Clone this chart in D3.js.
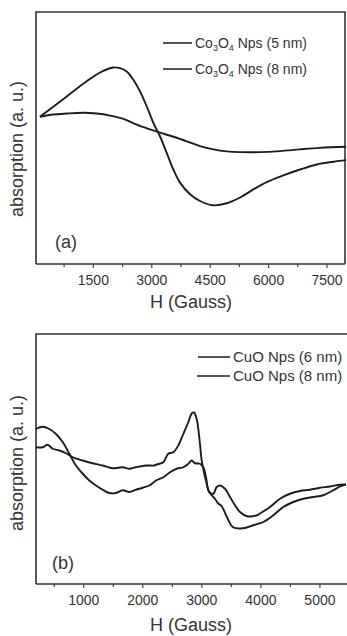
<!DOCTYPE html>
<html>
<head>
<meta charset="utf-8">
<script src="https://cdn.jsdelivr.net/npm/d3@7"></script>
<style>
  html, body { margin: 0; padding: 0; background: #fff; }
  svg { display: block; font-family: "Liberation Sans", Arial, sans-serif; }
</style>
</head>
<body>
<svg id="chart" width="347" height="636"></svg>
<script>
// ---------- Panel (a): Co3O4 ----------
const aFieldGauss5 = [140, 830, 1340, 1684, 2026, 2197, 2369, 2540, 2711, 2882, 3053, 3224, 3396, 3567, 3738, 3995, 4252, 4594, 4937, 5279, 5621, 5964, 6392, 6820, 7248, 7676, 8000];
const aAbs5nm      = [5.84, 6.65, 7.25, 7.60, 7.80, 7.77, 7.64, 7.31, 6.85, 6.26, 5.60, 5.07, 4.41, 3.75, 3.23, 2.77, 2.50, 2.33, 2.41, 2.64, 2.96, 3.25, 3.52, 3.75, 3.95, 4.06, 4.12];
const aFieldGauss8 = [140, 485, 828, 1255, 1598, 1940, 2283, 2626, 2968, 3224, 3567, 3910, 4252, 4594, 4937, 5279, 5793, 6306, 6820, 7334, 8000];
const aAbs8nm      = [5.84, 5.93, 5.97, 6.00, 5.97, 5.89, 5.76, 5.53, 5.34, 5.21, 5.05, 4.87, 4.68, 4.55, 4.47, 4.44, 4.44, 4.48, 4.55, 4.61, 4.65];
const aMajorTicks = [1500, 3000, 4500, 6000, 7500];
const aMinorTicks = [750, 2250, 3750, 5250, 6750];
const aLegend = ["5 nm", "8 nm"];

// ---------- Panel (b): CuO ----------
const bFieldA = [200, 313, 425, 539, 655, 764, 877, 991, 1103, 1216, 1330, 1441, 1555, 1668, 1780, 1893, 2007, 2119, 2232, 2356, 2469, 2583, 2694, 2779, 2837, 2893, 2977, 3033, 3079, 3118, 3175, 3231, 3287, 3345, 3435, 3536, 3705, 3880, 4049, 4219, 4388, 4557, 4727, 4896, 5065, 5235, 5348, 5450];
const bAbsA   = [6.20, 6.29, 6.20, 6.00, 5.67, 5.21, 4.74, 4.41, 4.14, 3.94, 3.77, 3.64, 3.64, 3.75, 3.68, 3.77, 3.85, 3.94, 4.14, 4.27, 4.47, 4.61, 4.67, 4.81, 4.94, 4.83, 4.81, 4.67, 4.27, 3.75, 3.55, 3.41, 3.22, 3.11, 2.67, 2.27, 2.23, 2.35, 2.48, 2.75, 3.08, 3.28, 3.41, 3.48, 3.55, 3.75, 3.90, 3.98];
const bFieldB = [200, 313, 398, 483, 595, 708, 822, 991, 1160, 1330, 1499, 1668, 1780, 1893, 2063, 2203, 2244, 2356, 2440, 2525, 2610, 2694, 2779, 2837, 2876, 2921, 2965, 3006, 3045, 3091, 3135, 3203, 3260, 3316, 3401, 3485, 3570, 3655, 3773, 3943, 3993, 4163, 4332, 4501, 4671, 4840, 5009, 5179, 5348, 5450];
const bAbsB   = [5.47, 5.47, 5.57, 5.41, 5.34, 5.23, 5.07, 4.94, 4.83, 4.74, 4.63, 4.67, 4.61, 4.67, 4.74, 4.74, 4.78, 4.87, 5.21, 5.27, 5.54, 6.00, 6.47, 6.82, 6.86, 6.60, 5.87, 4.94, 4.47, 4.01, 3.68, 3.61, 3.88, 3.94, 3.81, 3.48, 3.15, 2.88, 2.71, 2.75, 2.82, 3.08, 3.41, 3.61, 3.72, 3.77, 3.85, 3.90, 3.97, 3.98];
const bMajorTicks = [1000, 2000, 3000, 4000, 5000];
const bMinorTicks = [500, 1500, 2500, 3500, 4500];
const bLegend = ["CuO Nps (6 nm)", "CuO Nps (8 nm)"];

const svg = d3.select("#chart");
const ink = "#1c1c1c";
const textCol = "#333";

function panel(cfg) {
  const g = svg.append("g");
  const x = d3.scaleLinear().domain(cfg.xDomain).range([36, cfg.right]);
  const y = d3.scaleLinear().domain([0, 10]).range([cfg.bottom, cfg.top]);

  // frame
  g.append("path")
    .attr("d", `M36,${cfg.bottom} L36,${cfg.top} L${cfg.frameRight},${cfg.top}` + (cfg.closeRight ? ` L${cfg.frameRight},${cfg.bottom}` : ""))
    .attr("fill", "none").attr("stroke", "#333").attr("stroke-width", 1.6);

  // minor ticks
  const minorAxis = d3.axisBottom(x).tickValues(cfg.minor).tickSize(3).tickFormat("");
  const gm = g.append("g").attr("transform", `translate(0,${cfg.bottom})`).call(minorAxis);
  gm.select(".domain").remove();
  gm.selectAll("line").attr("stroke", "#444").attr("stroke-width", 1.2);

  // major axis
  const axis = d3.axisBottom(x).tickValues(cfg.major).tickSize(4).tickPadding(7).tickSizeOuter(0).tickFormat(d3.format("d"));
  const ga = g.append("g").attr("transform", `translate(0,${cfg.bottom})`).call(axis);
  ga.select(".domain").attr("stroke", "#333").attr("stroke-width", 1.6)
    .attr("d", `M36,0H${cfg.frameRight}`);
  ga.selectAll("line").attr("stroke", "#444").attr("stroke-width", 1.2);
  ga.selectAll("text").attr("font-size", 14).attr("fill", textCol)
    .attr("font-family", "'Liberation Sans', Arial, sans-serif");

  // curves
  const line = d3.line().x(d => x(d[0])).y(d => y(d[1])).curve(d3.curveCatmullRom.alpha(0.5));
  cfg.series.forEach(s => {
    g.append("path").datum(d3.zip(s.xs, s.ys))
      .attr("d", line).attr("fill", "none")
      .attr("stroke", ink).attr("stroke-width", 1.9).attr("stroke-linejoin", "round");
  });

  // axis titles
  g.append("text").attr("x", 191).attr("y", cfg.xTitleY)
    .attr("text-anchor", "middle").attr("font-size", 18).attr("fill", textCol).text("H (Gauss)");
  g.append("text").attr("transform", `translate(23,${cfg.yTitleMid}) rotate(-90)`)
    .attr("text-anchor", "middle").attr("font-size", 18).attr("fill", textCol).text("absorption (a. u.)");

  // panel tag
  g.append("text").attr("x", cfg.tagX).attr("y", cfg.tagY)
    .attr("font-size", 18).attr("fill", textCol).text(cfg.tag);

  // legend
  cfg.legendRows.forEach((row, i) => {
    const yy = cfg.legendY[i];
    g.append("line").attr("x1", cfg.legendX1[i]).attr("x2", cfg.legendX2)
      .attr("y1", yy).attr("y2", yy).attr("stroke", ink).attr("stroke-width", 1.5);
    const t = g.append("text").attr("x", cfg.legendX2 + 3).attr("y", yy + 5)
      .attr("font-size", cfg.legendFont).attr("fill", textCol);
    row(t);
  });
}

function coRow(size) {
  return t => {
    t.append("tspan").text("Co");
    t.append("tspan").attr("font-size", 9).attr("dy", 3).text("3");
    t.append("tspan").attr("dy", -3).text("O");
    t.append("tspan").attr("font-size", 9).attr("dy", 3).text("4");
    t.append("tspan").attr("dy", -3).text(" Nps (" + size + ")");
  };
}

panel({
  xDomain: [40, 8000], right: 346, frameRight: 345, closeRight: true,
  top: 12, bottom: 264,
  major: aMajorTicks, minor: aMinorTicks,
  series: [{ xs: aFieldGauss5, ys: aAbs5nm }, { xs: aFieldGauss8, ys: aAbs8nm }],
  xTitleY: 308, yTitleMid: 149,
  tag: "(a)", tagX: 55, tagY: 248,
  legendRows: aLegend.map(s => coRow(s)),
  legendY: [43, 69], legendX1: [163, 163], legendX2: 192, legendFont: 14
});

panel({
  xDomain: [200, 5450], right: 346, frameRight: 348, closeRight: false,
  top: 334, bottom: 584,
  major: bMajorTicks, minor: bMinorTicks,
  series: [{ xs: bFieldA, ys: bAbsA }, { xs: bFieldB, ys: bAbsB }],
  xTitleY: 631, yTitleMid: 463,
  tag: "(b)", tagX: 52, tagY: 569,
  legendRows: bLegend.map(s => (t => t.text(s))),
  legendY: [357, 376], legendX1: [198, 197], legendX2: 230, legendFont: 15
});
</script>
</body>
</html>
